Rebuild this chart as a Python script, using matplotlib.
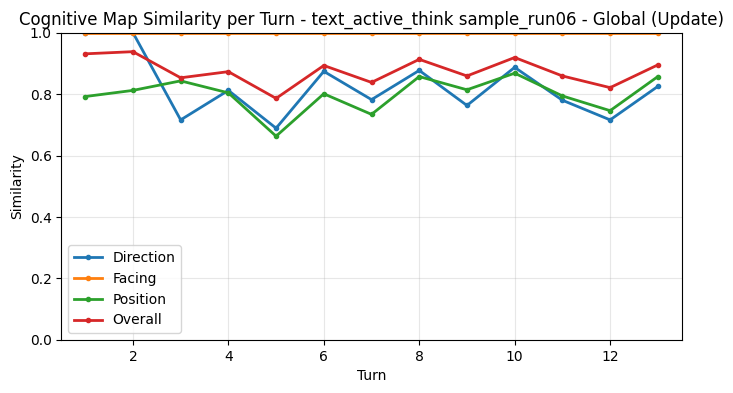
import matplotlib
matplotlib.use("Agg")
import matplotlib.pyplot as plt

turns = list(range(1, 14))
direction = [1.0, 1.0, 0.716, 0.812, 0.689, 0.874, 0.782, 0.877, 0.763, 0.887, 0.780, 0.716, 0.825]
facing = [1.0] * 13
position = [0.792, 0.812, 0.843, 0.804, 0.663, 0.801, 0.734, 0.857, 0.814, 0.868, 0.794, 0.746, 0.857]
overall = [0.931, 0.938, 0.853, 0.873, 0.786, 0.893, 0.838, 0.913, 0.859, 0.919, 0.859, 0.821, 0.895]

fig, ax = plt.subplots(figsize=(7.33, 3.93), dpi=100)
fig.subplots_adjust(left=0.0837, right=0.930, top=0.917, bottom=0.135)

ax.plot(turns, direction, marker='o', markersize=3, linewidth=2, label='Direction')
ax.plot(turns, facing, marker='o', markersize=3, linewidth=2, label='Facing')
ax.plot(turns, position, marker='o', markersize=3, linewidth=2, label='Position')
ax.plot(turns, overall, marker='o', markersize=3, linewidth=2, label='Overall')

ax.set_xlim(0.5, 13.5)
ax.set_ylim(0, 1)
ax.set_xlabel('Turn')
ax.set_ylabel('Similarity')
ax.set_title('Cognitive Map Similarity per Turn - text_active_think sample_run06 - Global (Update)')
ax.grid(True, alpha=0.3)
ax.legend(loc='lower left')

fig.savefig('out.png', dpi=100)
